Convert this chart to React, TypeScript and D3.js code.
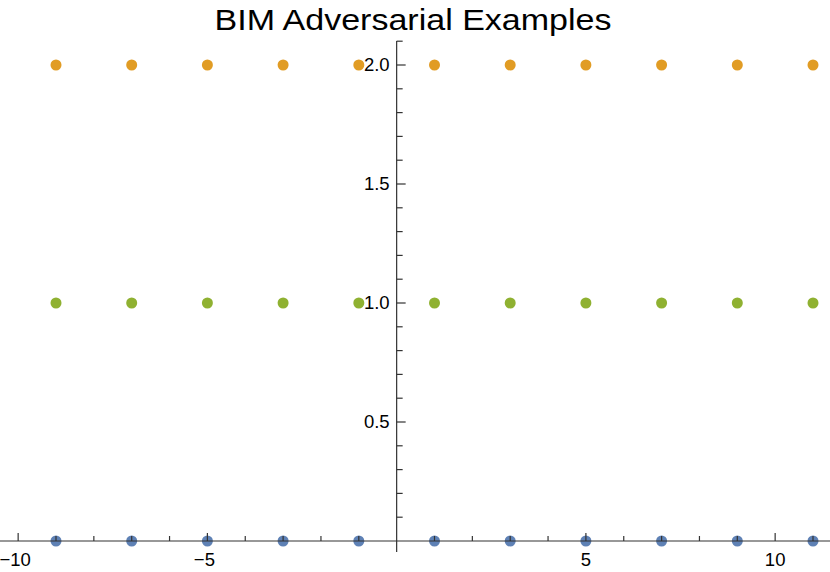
import React from "react";
import * as d3 from "d3";

const xs = [-9, -7, -5, -3, -1, 1, 3, 5, 7, 9, 11];
const seriesBlue = [0, 0, 0, 0, 0, 0, 0, 0, 0, 0, 0];
const seriesGreen = [1, 1, 1, 1, 1, 1, 1, 1, 1, 1, 1];
const seriesOrange = [2, 2, 2, 2, 2, 2, 2, 2, 2, 2, 2];
const xMajorTicks = [-10, -5, 5, 10];
const yMajorTicks = [0.5, 1.0, 1.5, 2.0];
const title = "BIM Adversarial Examples";

const W = 830;
const H = 572;

export default function App() {
  const x = d3.scaleLinear().domain([-9, 11]).range([56, 813]);
  const y = d3.scaleLinear().domain([0, 2]).range([541, 65]);
  const x0 = x(0);
  const y0 = y(0);
  const xMinor = d3.range(-10, 12, 1).filter((v) => !xMajorTicks.includes(v) && v !== 0);
  const yMinor = d3.range(1, 22, 1).map((v) => v / 10).filter((v) => !yMajorTicks.some((m) => Math.abs(m - v) < 1e-9));
  const series = [
    { vals: seriesBlue, color: "#5E81B5" },
    { vals: seriesGreen, color: "#8FB131" },
    { vals: seriesOrange, color: "#E19C24" },
  ];
  const font = "'Liberation Sans', Arial, sans-serif";
  const axisColor = "#333";
  const fs = 18.5;
  return (
    <svg width={W} height={H} style={{ position: "absolute", left: 0, top: 0, background: "#fff" }}>
      <text x={413} y={30} textAnchor="middle" fontFamily={font} fontSize={30} textLength={397} lengthAdjust="spacingAndGlyphs" fill="#000">{title}</text>
      {xMajorTicks.map((v) => (
        <text key={"xl" + v} x={x(v) + (v < 0 ? -3 : 0)} y={561} textAnchor="middle" dominantBaseline="middle" fontFamily={font} fontSize={fs} fill="#000">{v < 0 ? "\u2212" + Math.abs(v) : v}</text>
      ))}
      {yMajorTicks.map((v) => (
        <text key={"yl" + v} x={x0 - 7} y={y(v) + 1} textAnchor="end" dominantBaseline="middle" fontFamily={font} fontSize={fs} fill="#000">{v.toFixed(1)}</text>
      ))}
      {series.map((s, si) =>
        xs.map((xv, i) => (
          <circle key={si + "-" + i} cx={x(xv)} cy={y(s.vals[i])} r={5.5} fill={s.color} />
        ))
      )}
      {/* axes */}
      <line x1={0} x2={W} y1={y0} y2={y0} stroke={axisColor} strokeWidth={1.2} />
      <line x1={x0} x2={x0} y1={41} y2={552} stroke={axisColor} strokeWidth={1.2} />
      {xMajorTicks.map((v) => (
        <line key={"xm" + v} x1={x(v)} x2={x(v)} y1={y0} y2={y0 - 8} stroke={axisColor} strokeWidth={1.2} />
      ))}
      {xMinor.map((v) => (
        <line key={"xn" + v} x1={x(v)} x2={x(v)} y1={y0} y2={y0 - 5} stroke={axisColor} strokeWidth={1.2} />
      ))}
      {yMajorTicks.map((v) => (
        <line key={"ym" + v} x1={x0} x2={x0 + 9} y1={y(v)} y2={y(v)} stroke={axisColor} strokeWidth={1.2} />
      ))}
      {yMinor.map((v) => (
        <line key={"yn" + v} x1={x0} x2={x0 + 6} y1={y(v)} y2={y(v)} stroke={axisColor} strokeWidth={1.2} />
      ))}
    </svg>
  );
}
